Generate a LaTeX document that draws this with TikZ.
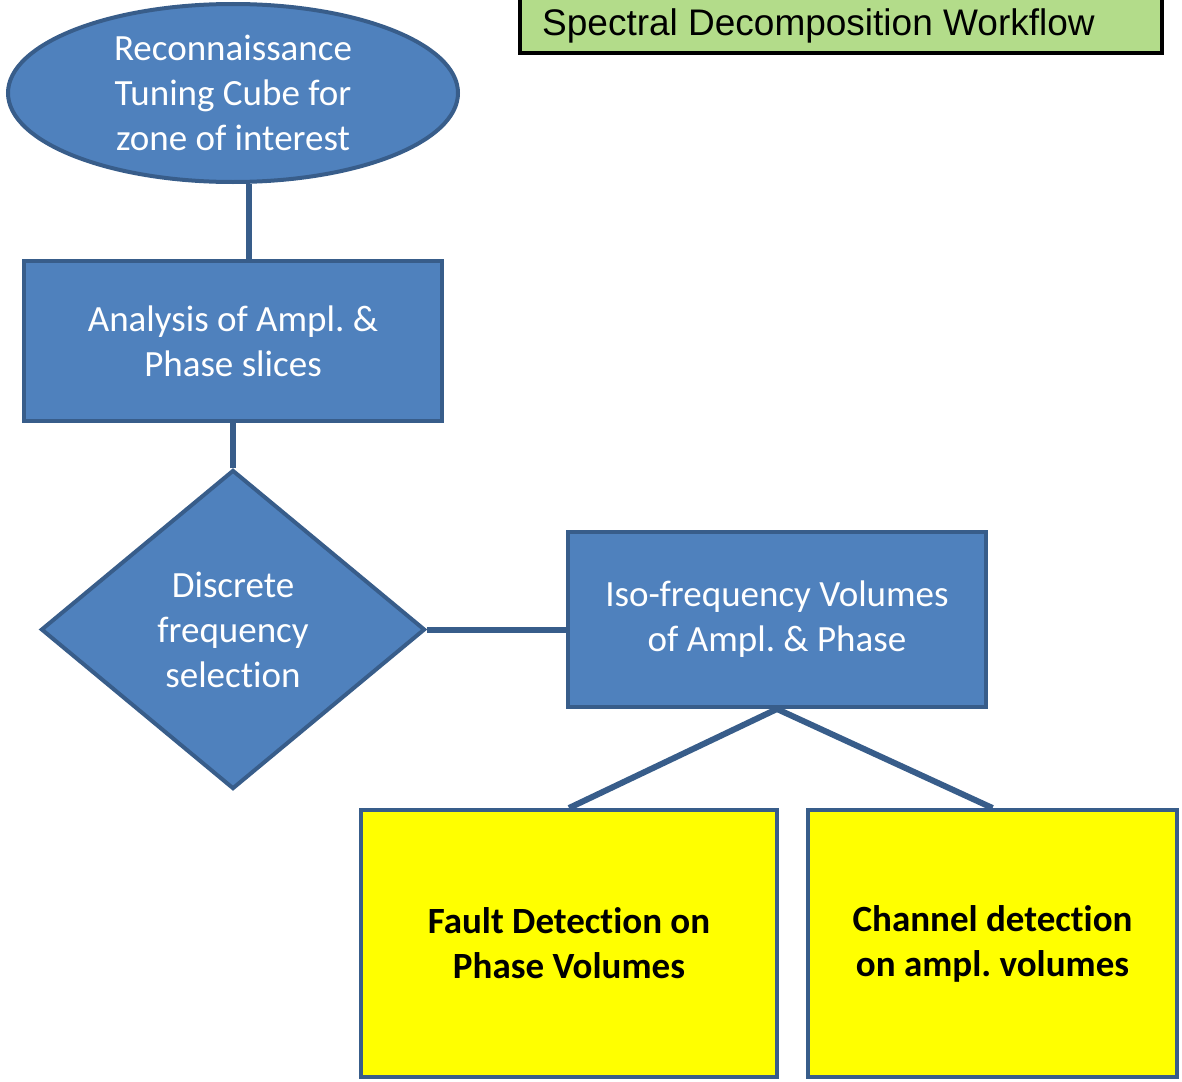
\documentclass[tikz,border=0pt]{standalone}
\usepackage{fontspec}
\setmainfont{Carlito}[Ligatures={NoCommon}]
\newfontfamily\titlefont{Liberation Sans}
\usetikzlibrary{shapes.geometric,backgrounds}
\definecolor{bfill}{RGB}{79,129,189}
\definecolor{bline}{RGB}{56,93,138}
\definecolor{gfill}{RGB}{179,220,138}
\definecolor{yfill}{RGB}{255,255,0}
\frenchspacing
\begin{document}
\begin{tikzpicture}[x=1pt,y=-1pt,
  bluebox/.style={draw=bline, fill=bfill, line width=4pt, inner sep=0pt, text=white, align=center,
    font=\fontsize{37}{45}\selectfont},
  yelbox/.style={draw=bline, fill=yfill, line width=4pt, inner sep=0pt, text=black, align=center,
    font=\fontsize{37}{45}\selectfont\bfseries},
  conn/.style={draw=bline, line width=6pt}]
\useasboundingbox (0,0) rectangle (1182,1081);
\node[draw=black, fill=gfill, line width=4pt, minimum width=642pt, minimum height=63pt, inner sep=0pt]
  (title) at (841,21.5) {};
\node[anchor=base west, inner sep=0pt, font=\titlefont\fontsize{37}{40}\selectfont]
  (titletext) at (542,36) {Spectral Decomposition Workflow};
\node[bluebox, ellipse, minimum width=450pt, minimum height=178pt] (ell) at (233,93)
  {Reconnaissance\\Tuning Cube for\\zone of interest};
\node[bluebox, rectangle, minimum width=418pt, minimum height=160pt] (r1) at (233,341)
  {Analysis of Ampl. \&\\Phase slices};
\node[bluebox, diamond, aspect=1.2038, minimum width=384pt, minimum height=319pt] (dia) at (233,629.5)
  {Discrete\\frequency\\selection};
\node[bluebox, rectangle, minimum width=418pt, minimum height=175pt] (r2) at (777,619.5)
  {Iso-frequency Volumes\\of Ampl. \& Phase};
\node[yelbox, rectangle, minimum width=416pt, minimum height=267pt] (y1) at (569,943.5)
  {\raisebox{0pt}[\height][\depth]{}Fault Detection on\\Phase Volumes};
\node[yelbox, rectangle, minimum width=369pt, minimum height=267pt] (y2) at (992.5,943.5)
  {Channel detection\\on ampl. volumes};
\begin{pgfonlayer}{background}
\draw[conn] ([xshift=16pt]ell.south) -- ([xshift=16pt]r1.north);
\draw[conn] (r1.south) -- (dia.north);
\draw[conn] (dia.east) -- (dia.east -| r2.west);
\draw[conn] (r2.south) -- (y1.north);
\draw[conn] (r2.south) -- (y2.north);
\end{pgfonlayer}
\end{tikzpicture}
\end{document}
